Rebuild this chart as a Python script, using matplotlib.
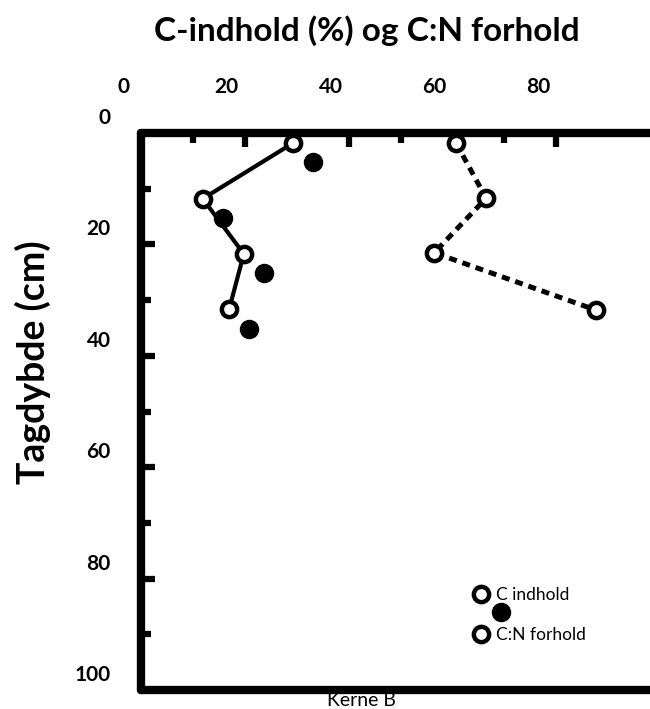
import matplotlib
matplotlib.use('Agg')
import matplotlib.pyplot as plt
import matplotlib.transforms as mtransforms
from matplotlib.ticker import FixedLocator

plt.rcParams['font.family'] = ['Lato', 'DejaVu Sans']

# dybder (cm) og værdier
depth_c = [1.8, 11.8, 21.7, 31.6]
c_indhold = [29.3, 11.9, 19.8, 17.0]

depth_fill = [5.2, 15.3, 25.1, 35.2]
c_fill = [33.1, 15.8, 23.7, 20.8]

depth_cn = [1.8, 11.7, 21.5, 31.8]
cn_forhold = [60.7, 66.5, 56.5, 87.7]

x_ticks = [0, 20, 40, 60, 80]
x_minor = [10, 30, 50, 70]
y_ticks = [0, 20, 40, 60, 80, 100]
y_minor = [10, 30, 50, 70, 90]

W, H = 650, 709
fig = plt.figure(figsize=(W / 100, H / 100), dpi=100)
# aksens kasse i pixels: venstre 141, top 133, bund 690, højre udenfor billedet
ax = fig.add_axes([141 / W, 19 / H, 519 / W, 557 / H])
ax.set_xlim(0, 100)
ax.set_ylim(100, 0)

open_kw = dict(marker='o', markersize=11, markerfacecolor='white',
               markeredgecolor='black', markeredgewidth=3.2, color='black')

ax.plot(c_indhold, depth_c, linestyle='-', linewidth=3, zorder=3, **open_kw)
ax.plot(c_fill, depth_fill, linestyle='none', marker='o', markersize=13,
        color='black', zorder=3)
ax.plot(cn_forhold, depth_cn, linestyle=(0, (1.6, 1.2)), linewidth=3.6,
        zorder=3, **open_kw)

# spines
ax.spines['right'].set_visible(False)
for side in ['left', 'top', 'bottom']:
    ax.spines[side].set_linewidth(6)
    ax.spines[side].set_capstyle('round')

ax.xaxis.set_ticks_position('top')
ax.set_xticks(x_ticks)
ax.xaxis.set_minor_locator(FixedLocator(x_minor))
ax.set_yticks(y_ticks)
ax.yaxis.set_minor_locator(FixedLocator(y_minor))

ax.tick_params(axis='both', which='major', direction='in', length=10, width=4.5,
               labelsize=15)
ax.tick_params(axis='both', which='minor', direction='in', length=7, width=4.5)
ax.tick_params(axis='x', which='major', pad=14)
ax.tick_params(axis='y', which='major', pad=9)

for lab in ax.get_xticklabels() + ax.get_yticklabels():
    lab.set_fontweight('bold')
    lab.set_transform(lab.get_transform() +
                      mtransforms.ScaledTranslation(-0.18, 0.17, fig.dpi_scale_trans))

fig.text(367 / W, 1 - 31 / H, 'C-indhold (%) og C:N forhold', ha='center',
         va='center', fontsize=24, fontweight='bold')
fig.text(33 / W, 1 - 362 / H, 'Tagdybde (cm)', ha='center', va='center',
         rotation=90, fontsize=27, fontweight='bold')

# "Kerne B" ligger delvis under den nederste akselinje
ax.text(361 / W, 1 - 701 / H, 'Kerne B', transform=fig.transFigure, ha='center',
        va='center', fontsize=14, zorder=1, clip_on=False)

# forklaring
leg = ax.legend(handles=[ax.lines[0], ax.lines[2]], labels=['C indhold', 'C:N forhold'],
                loc='lower left', bbox_to_anchor=(472 / W, 57 / H),
                bbox_transform=fig.transFigure, frameon=False, fontsize=12.5,
                handlelength=0, handletextpad=0.9, labelspacing=1.4,
                borderpad=0)
for h in leg.legend_handles:
    h.set_linestyle('none')
ax.plot([501 / W], [1 - 612 / H], transform=fig.transFigure, marker='o',
        markersize=13, color='black', clip_on=False, zorder=4)

fig.savefig('out.png', dpi=100, facecolor='white')
